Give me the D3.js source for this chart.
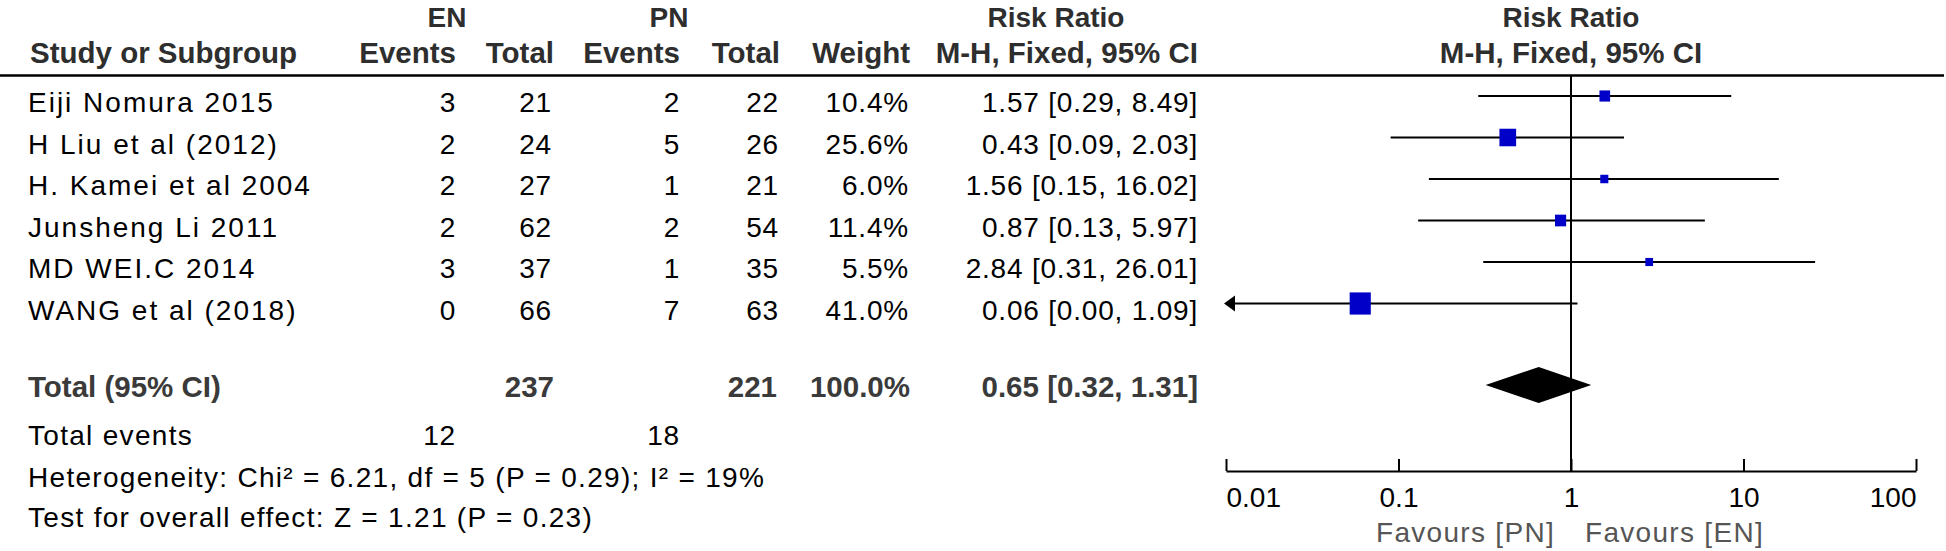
<!DOCTYPE html>
<html>
<head>
<meta charset="utf-8">
<script src="https://cdn.jsdelivr.net/npm/d3@7"></script>
<style>
  html, body { margin: 0; padding: 0; background: #fff; }
  svg { display: block; }
  text { font-family: "Liberation Sans", Arial, sans-serif; }
  .hdr { font-weight: bold; font-size: 29.5px; fill: #2e2e2e; }
  .hdr1 { font-weight: bold; font-size: 28px; fill: #2e2e2e; }
  .tot { font-weight: bold; font-size: 29.5px; fill: #3a3a3a; }
  .name { font-size: 28px; fill: #000; letter-spacing: 2px; }
  .num { font-size: 28px; fill: #000; letter-spacing: 0.8px; }
  .foot { font-size: 28px; fill: #000; letter-spacing: 1.3px; }
  .fav { font-size: 28px; fill: #555; letter-spacing: 1.3px; }
  .tick text { font-size: 28px; fill: #000; }
</style>
</head>
<body>
<svg id="chart" width="1946" height="551"></svg>
<script>
// ---------- data ----------
const studies   = ["Eiji Nomura 2015", "H Liu et al (2012)", "H. Kamei et al 2004", "Junsheng Li 2011", "MD WEI.C 2014", "WANG et al (2018)"];
const enEvents  = [3, 2, 2, 2, 3, 0];
const enTotal   = [21, 24, 27, 62, 37, 66];
const pnEvents  = [2, 5, 1, 2, 1, 7];
const pnTotal   = [22, 26, 21, 54, 35, 63];
const weights   = [10.4, 25.6, 6.0, 11.4, 5.5, 41.0];
const rr        = [1.57, 0.43, 1.56, 0.87, 2.84, 0.06];
const rrLo      = [0.29, 0.09, 0.15, 0.13, 0.31, 0.00];
const rrHi      = [8.49, 2.03, 16.02, 5.97, 26.01, 1.09];
const total     = { en: 237, pn: 221, weight: 100.0, rr: 0.65, lo: 0.32, hi: 1.31, enEv: 12, pnEv: 18 };
const tickVals  = [0.01, 0.1, 1, 10, 100];
const tickLabels = ["0.01", "0.1", "1", "10", "100"];
const heteroText = "Heterogeneity: Chi\u00B2 = 6.21, df = 5 (P = 0.29); I\u00B2 = 19%";
const overallText = "Test for overall effect: Z = 1.21 (P = 0.23)";
const favLeft = "Favours [PN]", favRight = "Favours [EN]";

// ---------- layout ----------
const svg = d3.select("#chart");
const x = d3.scaleLog().domain([0.01, 100]).range([1226, 1916]);
const rowY = d3.scaleLinear().domain([0, 5]).range([96, 303.5]);
const colR = { enEv: 456, enTot: 552, pnEv: 680, pnTot: 779, wt: 909, rr: 1198 };
const nameX = 28;
const headerLineY = 75.5;
const axisY = 471;
const totalY = 385;
const fmt2 = d3.format(".2f");
const ciText = (m, l, h) => `${fmt2(m)} [${fmt2(l)}, ${fmt2(h)}]`;

// headers
const h1 = 27, h2 = 63;
svg.append("text").attr("class", "hdr1").attr("x", 447).attr("y", h1).attr("text-anchor", "middle").text("EN");
svg.append("text").attr("class", "hdr1").attr("x", 669).attr("y", h1).attr("text-anchor", "middle").text("PN");
svg.append("text").attr("class", "hdr1").attr("x", 1056).attr("y", h1).attr("text-anchor", "middle").text("Risk Ratio");
svg.append("text").attr("class", "hdr1").attr("x", x(1)).attr("y", h1).attr("text-anchor", "middle").text("Risk Ratio");
svg.append("text").attr("class", "hdr").attr("x", 30).attr("y", h2).text("Study or Subgroup");
[["Events", colR.enEv], ["Total", colR.enTot + 2], ["Events", colR.pnEv], ["Total", colR.pnTot + 1], ["Weight", colR.wt + 1], ["M-H, Fixed, 95% CI", colR.rr]]
  .forEach(([t, xr]) => svg.append("text").attr("class", "hdr").attr("x", xr).attr("y", h2).attr("text-anchor", "end").text(t));
svg.append("text").attr("class", "hdr").attr("x", x(1)).attr("y", h2).attr("text-anchor", "middle").text("M-H, Fixed, 95% CI");

svg.append("line").attr("x1", 0).attr("x2", 1944).attr("y1", headerLineY).attr("y2", headerLineY)
  .attr("stroke", "#000").attr("stroke-width", 2.5);

// study rows (text)
studies.forEach((s, i) => {
  const by = rowY(i) + 16;
  svg.append("text").attr("class", "name").attr("x", nameX).attr("y", by).text(s);
  const cells = [[enEvents[i], colR.enEv], [enTotal[i], colR.enTot], [pnEvents[i], colR.pnEv], [pnTotal[i], colR.pnTot],
                 [weights[i].toFixed(1) + "%", colR.wt], [ciText(rr[i], rrLo[i], rrHi[i]), colR.rr]];
  cells.forEach(([t, xr]) => svg.append("text").attr("class", "num").attr("x", xr).attr("y", by)
    .attr("text-anchor", "end").text(t));
});

// total row
const tb = 397;
svg.append("text").attr("class", "tot").attr("x", nameX).attr("y", tb).text("Total (95% CI)");
[[total.en, colR.enTot + 2], [total.pn, colR.pnTot - 2], [total.weight.toFixed(1) + "%", colR.wt + 1], [ciText(total.rr, total.lo, total.hi), colR.rr]]
  .forEach(([t, xr]) => svg.append("text").attr("class", "tot").attr("x", xr).attr("y", tb).attr("text-anchor", "end").text(t));

svg.append("text").attr("class", "foot").attr("x", nameX).attr("y", 445).text("Total events");
svg.append("text").attr("class", "num").attr("x", colR.enEv).attr("y", 445).attr("text-anchor", "end").text(total.enEv);
svg.append("text").attr("class", "num").attr("x", colR.pnEv).attr("y", 445).attr("text-anchor", "end").text(total.pnEv);
svg.append("text").attr("class", "foot").attr("x", nameX).attr("y", 487).text(heteroText);
svg.append("text").attr("class", "foot").attr("x", nameX).attr("y", 527).text(overallText);

// forest plot
const g = svg.append("g");
g.append("line").attr("x1", x(1)).attr("x2", x(1)).attr("y1", headerLineY).attr("y2", axisY)
  .attr("stroke", "#000").attr("stroke-width", 2);

const xMin = x.domain()[0], xMax = x.domain()[1];
studies.forEach((s, i) => {
  const cy = rowY(i);
  const lo = Math.max(rrLo[i], xMin), hi = Math.min(rrHi[i], xMax);
  g.append("line").attr("x1", x(lo)).attr("x2", x(hi)).attr("y1", cy).attr("y2", cy)
    .attr("stroke", "#000").attr("stroke-width", 2);
  if (rrLo[i] < xMin) {
    const ax = x(xMin) - 2;
    g.append("path").attr("d", `M${ax},${cy} L${ax + 11},${cy - 8} L${ax + 11},${cy + 8} Z`).attr("fill", "#000");
  }
  const side = 3.3 * Math.sqrt(weights[i]);
  const hgt = side * 1.05;
  g.append("rect").attr("x", x(rr[i]) - side / 2).attr("y", cy - hgt / 2)
    .attr("width", side).attr("height", hgt).attr("fill", "#0000c8");
});

// diamond
g.append("path")
  .attr("d", `M${x(total.lo)},${totalY} L${x(total.rr)},${totalY - 18} L${x(total.hi)},${totalY} L${x(total.rr)},${totalY + 18} Z`)
  .attr("fill", "#000");

// axis
const axis = d3.axisBottom(x).tickValues(tickVals).tickFormat((d, i) => tickLabels[i])
  .tickSizeInner(-12).tickSizeOuter(0).tickPadding(16);
const ag = svg.append("g").attr("transform", `translate(0,${axisY})`).call(axis);
ag.select(".domain").attr("stroke", "#000").attr("stroke-width", 2);
ag.selectAll(".tick line").attr("stroke", "#000").attr("stroke-width", 2);
ag.selectAll(".tick text")
  .attr("text-anchor", (d, i) => i === 0 ? "start" : (i === tickVals.length - 1 ? "end" : "middle"));
ag.attr("font-family", null).attr("font-size", null);

// favours labels
svg.append("text").attr("class", "fav").attr("x", x(1) - 16).attr("y", 542).attr("text-anchor", "end").text(favLeft);
svg.append("text").attr("class", "fav").attr("x", x(1) + 14).attr("y", 542).text(favRight);
</script>
</body>
</html>
